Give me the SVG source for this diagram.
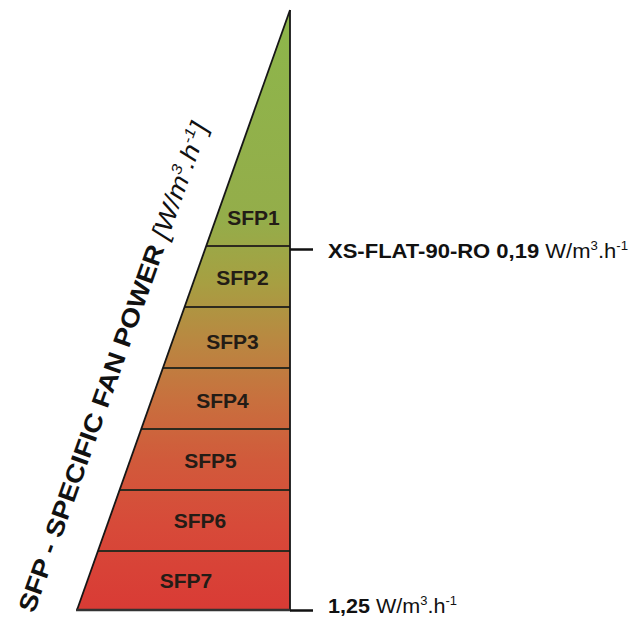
<svg xmlns="http://www.w3.org/2000/svg" width="640" height="629" viewBox="0 0 640 629">
  <defs>
    <linearGradient id="sfpGrad" gradientUnits="userSpaceOnUse" x1="0" y1="10" x2="0" y2="610">
      <stop offset="0" stop-color="#8db64b"/>
      <stop offset="0.35" stop-color="#94ad4a"/>
      <stop offset="0.45" stop-color="#a6a042"/>
      <stop offset="0.55" stop-color="#b98841"/>
      <stop offset="0.65" stop-color="#c8703e"/>
      <stop offset="0.75" stop-color="#d15a3b"/>
      <stop offset="0.86" stop-color="#d74a39"/>
      <stop offset="1" stop-color="#d93b35"/>
    </linearGradient>
    <style>
      .band { fill: url(#sfpGrad); stroke: none; }
      .lbl { font-family: "Liberation Sans", Arial, sans-serif; font-weight: bold; font-size: 21px; fill: #231c16; text-anchor: middle; }
      .divider { stroke: #2e2a1e; stroke-width: 2; fill: none; }
      .edge { stroke: #161616; stroke-width: 1.8; fill: none; }
      .tick { stroke: #111; stroke-width: 2.5; fill: none; }
      .note { font-family: "Liberation Sans", Arial, sans-serif; font-size: 20px; fill: #111; }
      .b { font-weight: bold; }
    </style>
  </defs>
  <rect width="640" height="629" fill="#ffffff"/>

  <g id="sfp1">
    <polygon class="band" points="290,10 290,246 206.2,246"/>
    <text class="lbl" x="253.5" y="225">SFP1</text>
  </g>
  <g id="sfp2">
    <polygon class="band" points="206.2,246 290,246 290,307 184.6,307"/>
    <text class="lbl" x="242.5" y="285">SFP2</text>
  </g>
  <g id="sfp3">
    <polygon class="band" points="184.6,307 290,307 290,368 162.9,368"/>
    <text class="lbl" x="232.5" y="349">SFP3</text>
  </g>
  <g id="sfp4">
    <polygon class="band" points="162.9,368 290,368 290,429 141.3,429"/>
    <text class="lbl" x="222.5" y="408">SFP4</text>
  </g>
  <g id="sfp5">
    <polygon class="band" points="141.3,429 290,429 290,490 119.6,490"/>
    <text class="lbl" x="210.5" y="468">SFP5</text>
  </g>
  <g id="sfp6">
    <polygon class="band" points="119.6,490 290,490 290,551 97.9,551"/>
    <text class="lbl" x="200" y="528">SFP6</text>
  </g>
  <g id="sfp7">
    <polygon class="band" points="97.9,551 290,551 290,610 77,610"/>
    <text class="lbl" x="186" y="588">SFP7</text>
  </g>

  <g id="outline">
    <line class="divider" x1="206.2" y1="246" x2="290" y2="246"/>
    <line class="divider" x1="184.6" y1="307" x2="290" y2="307"/>
    <line class="divider" x1="162.9" y1="368" x2="290" y2="368"/>
    <line class="divider" x1="141.3" y1="429" x2="290" y2="429"/>
    <line class="divider" x1="119.6" y1="490" x2="290" y2="490"/>
    <line class="divider" x1="97.9" y1="551" x2="290" y2="551"/>
    <line class="edge" x1="290" y1="10" x2="77" y2="610"/>
    <line class="edge" x1="290" y1="10" x2="290" y2="610" stroke-width="2"/>
    <line x1="76" y1="610" x2="291" y2="610" stroke="#333" stroke-width="2.5"/>
  </g>

  <g id="connectors">
    <line class="tick" x1="290" y1="249.5" x2="313" y2="249.5"/>
    <line class="tick" x1="290" y1="610.5" x2="313" y2="610.5"/>
  </g>

  <g id="label-xs-flat">
    <text class="note" x="328" y="258" textLength="300" lengthAdjust="spacingAndGlyphs"><tspan class="b">XS-FLAT-90-RO 0,19</tspan> W/m<tspan font-size="12" dy="-8">3</tspan><tspan dy="8">.h</tspan><tspan font-size="12" dy="-8">-1</tspan></text>
  </g>
  <g id="label-max">
    <text class="note" x="328" y="613" textLength="129" lengthAdjust="spacingAndGlyphs"><tspan class="b">1,25</tspan> W/m<tspan font-size="12" dy="-8">3</tspan><tspan dy="8">.h</tspan><tspan font-size="12" dy="-8">-1</tspan></text>
  </g>

  <g id="axis-title">
    <text transform="translate(34,614) rotate(-70.35)" font-family="'Liberation Sans', Arial, sans-serif" font-size="25" fill="#111" textLength="518" lengthAdjust="spacingAndGlyphs"><tspan font-weight="bold">SFP - SPECIFIC FAN POWER </tspan><tspan font-style="italic">[W/m</tspan><tspan font-style="italic" font-size="15" dy="-10">3</tspan><tspan font-style="italic" dy="10">.h</tspan><tspan font-style="italic" font-size="15" dy="-10">-1</tspan><tspan font-style="italic" dy="10">]</tspan></text>
  </g>
</svg>
